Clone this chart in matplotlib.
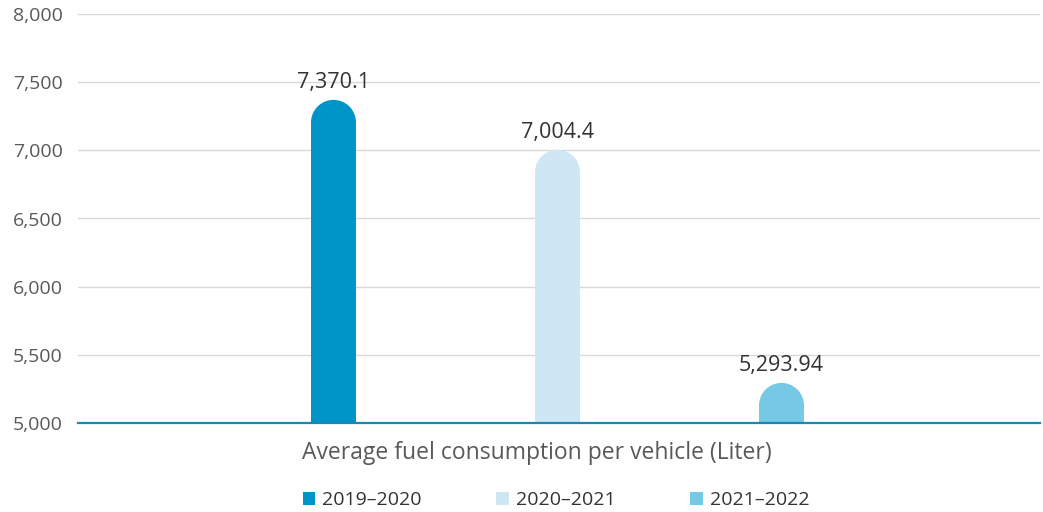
import matplotlib
matplotlib.use("Agg")
import matplotlib.pyplot as plt
from matplotlib.patches import Ellipse, Patch
from matplotlib.ticker import FuncFormatter
import matplotlib.transforms as mtransforms

category = "Average fuel consumption per vehicle (Liter)"
series = ["2019–2020", "2020–2021", "2021–2022"]
values = [7370.1, 7004.4, 5293.94]
labels = ["7,370.1", "7,004.4", "5,293.94"]
colors = ["#0095C9", "#CFE7F4", "#75C9E5"]
yticks = [5000, 5500, 6000, 6500, 7000, 7500, 8000]

plt.rcParams['font.family'] = ['Open Sans', 'DejaVu Sans']

W, H = 1043, 512
fig = plt.figure(figsize=(W / 100, H / 100), dpi=100)
ax_l, ax_r, ax_t, ax_b = 78, 1040, 14, 423
ax = fig.add_axes([ax_l / W, 1 - ax_b / H, (ax_r - ax_l) / W, (ax_b - ax_t) / H])

ymin, ymax = 5000, 8000
ax.set_ylim(ymin, ymax)
step_px = 224.0
center_px = 557.5
xl = (ax_l - center_px) / step_px
xr = (ax_r - center_px) / step_px
ax.set_xlim(xl, xr)

bar_w_px = 45
bw = bar_w_px / step_px
ry = (bar_w_px / 2) * (ymax - ymin) / (ax_b - ax_t)

offsets = [-1, 0, 1]
for off, v, c, lab in zip(offsets, values, colors, labels):
    ax.bar(off, v - ry - ymin, bottom=ymin, width=bw, color=c, zorder=3, linewidth=0)
    e = Ellipse((off, v - ry), width=bw, height=2 * ry, facecolor=c, edgecolor='none', zorder=3)
    ax.add_patch(e)
    ax.text(off, v + 50, lab, ha='center', va='bottom', fontsize=15.5, color='#333333', zorder=4)

ax.set_yticks(yticks)
ax.yaxis.set_major_formatter(FuncFormatter(lambda v, p: f"{int(v):,}"))
ax.tick_params(axis='y', length=0, labelsize=14, labelcolor='#595959', pad=11)
ax.grid(axis='y', color='#D9D9D9', linewidth=1, zorder=0)
ax.set_axisbelow(True)
for s in ['top', 'right', 'left']:
    ax.spines[s].set_visible(False)
ax.spines['bottom'].set_color('#1B87B5')
ax.spines['bottom'].set_linewidth(1.6)
ax.spines['bottom'].set_zorder(5)

ax.set_xticks([0])
ax.set_xticklabels([category])
ax.tick_params(axis='x', length=0, labelsize=16.5, labelcolor='#595959', pad=13)
shift = mtransforms.ScaledTranslation(-21 / 100, 0, fig.dpi_scale_trans)
for t in ax.get_xticklabels():
    t.set_transform(t.get_transform() + shift)

handles = [Patch(facecolor=c, edgecolor='none') for c in colors]
fig.legend(handles, series, loc='center', bbox_to_anchor=(556 / W, 1 - 500 / H), ncol=3,
           frameon=False, fontsize=14, labelcolor='#333333', handlelength=0.65, handleheight=0.65,
           handletextpad=0.35, columnspacing=3.85)

fig.savefig("out.png", dpi=100)
